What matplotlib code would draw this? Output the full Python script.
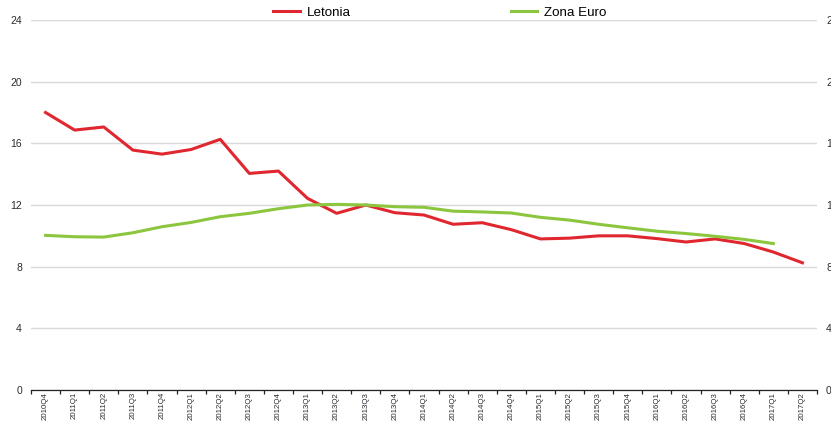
import matplotlib
matplotlib.use("Agg")
import matplotlib.pyplot as plt
import numpy as np

plt.rcParams["font.family"] = ["Liberation Sans", "DejaVu Sans"]

# ---------------------------------------------------------------------------
# Data
# ---------------------------------------------------------------------------
quarters = [
    "2010Q4",
    "2011Q1", "2011Q2", "2011Q3", "2011Q4",
    "2012Q1", "2012Q2", "2012Q3", "2012Q4",
    "2013Q1", "2013Q2", "2013Q3", "2013Q4",
    "2014Q1", "2014Q2", "2014Q3", "2014Q4",
    "2015Q1", "2015Q2", "2015Q3", "2015Q4",
    "2016Q1", "2016Q2", "2016Q3", "2016Q4",
    "2017Q1", "2017Q2",
]
letonia = [
    18.0, 16.86, 17.06, 15.56, 15.3, 15.6, 16.26, 14.05, 14.2,
    12.43, 11.46, 12.0, 11.5, 11.35, 10.75, 10.85, 10.4,
    9.8, 9.85, 10.0, 10.0, 9.82, 9.6, 9.8, 9.5, 8.95, 8.25,
]
zona_euro = [
    10.03, 9.94, 9.92, 10.2, 10.59, 10.87, 11.24, 11.46, 11.76,
    12.0, 12.04, 12.0, 11.89, 11.85, 11.6, 11.55, 11.48,
    11.2, 11.02, 10.75, 10.52, 10.3, 10.15, 9.97, 9.77, 9.5,
]
y_ticks = [0, 4, 8, 12, 16, 20, 24]

RED = "#E0262E"
GREEN = "#8CC63E"
GRID = "#D9D9D9"
TEXT = "#2B2B33"

# ---------------------------------------------------------------------------
# Figure
# ---------------------------------------------------------------------------
fig = plt.figure(figsize=(8.31, 4.23), dpi=100)
ax = fig.add_axes([31 / 831, 1 - 390 / 423, (817 - 31) / 831, (390 - 20) / 423])

x = np.arange(len(quarters))
l1, = ax.plot(x, letonia, color=RED, linewidth=2.2, solid_joinstyle="round",
              label="Letonia", zorder=3)
l2, = ax.plot(x[:len(zona_euro)], zona_euro, color=GREEN, linewidth=2.2,
              solid_joinstyle="round", label="Zona Euro", zorder=3)

ax.set_xlim(-0.5, len(quarters) - 0.5)
ax.set_ylim(0, 24)
ax.set_yticks(y_ticks)
ax.grid(axis="y", color=GRID, linewidth=1.0, zorder=0)
ax.set_axisbelow(True)

for side in ["top", "left", "right"]:
    ax.spines[side].set_visible(False)
ax.spines["bottom"].set_color("#222222")
ax.spines["bottom"].set_linewidth(0.9)

ax.set_xticks(x)
ax.set_xticklabels(quarters, rotation=90, fontsize=5.7, color=TEXT)
ax.tick_params(axis="x", which="major", length=0, pad=1.5)
ax.set_xticks(np.arange(-0.5, len(quarters), 1.0), minor=True)
ax.tick_params(axis="x", which="minor", length=3, width=0.9,
               color="#222222", direction="out")

ax.tick_params(axis="y", length=0, pad=6.5, labelsize=7.5, labelcolor=TEXT)

ax2 = ax.twinx()
ax2.set_ylim(0, 24)
ax2.set_yticks(y_ticks)
for side in ["top", "left", "right", "bottom"]:
    ax2.spines[side].set_visible(False)
ax2.tick_params(axis="y", length=0, pad=6.5, labelsize=7.5, labelcolor=TEXT)

fig.legend(handles=[l1, l2], loc="center",
           bbox_to_anchor=(440 / 831, 1 - 13 / 423), ncol=2, frameon=False,
           fontsize=9.6, handlelength=2.0, handletextpad=0.5,
           columnspacing=12.0, borderpad=0.0)

fig.savefig("out.png", dpi=100)
plt.close(fig)
